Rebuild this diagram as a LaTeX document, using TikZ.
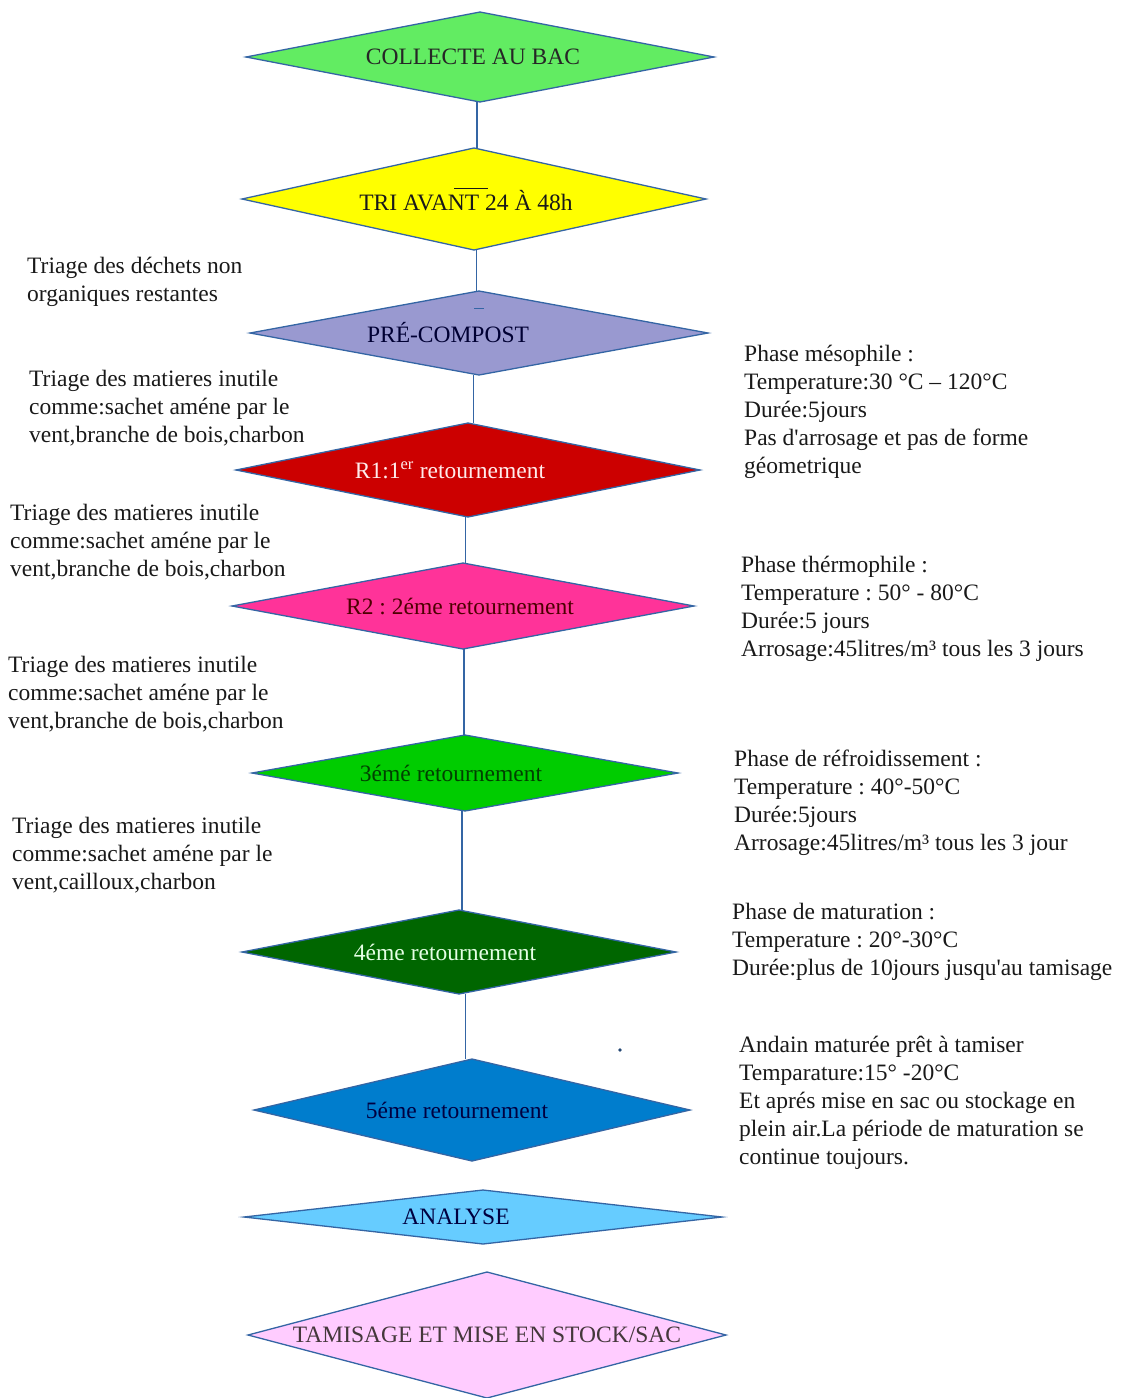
\documentclass[tikz,border=0pt]{standalone}
\usepackage{fontspec}
\setmainfont{Liberation Serif}
\usetikzlibrary{shapes.geometric,calc}
\frenchspacing

\definecolor{edgeblue}{RGB}{52,101,164}
\definecolor{collectgreen}{RGB}{98,236,98}
\definecolor{triyellow}{RGB}{255,255,0}
\definecolor{preblue}{RGB}{153,153,208}
\definecolor{rundred}{RGB}{204,0,0}
\definecolor{rtwopink}{RGB}{255,51,153}
\definecolor{rthreegreen}{RGB}{0,204,0}
\definecolor{rfourgreen}{RGB}{0,102,0}
\definecolor{rfiveblue}{RGB}{0,125,205}
\definecolor{analyseblue}{RGB}{102,204,255}
\definecolor{tamispink}{RGB}{255,204,255}

\def\txtsize{\fontsize{23.5}{28}\selectfont}

\begin{document}
\begin{tikzpicture}[x=1pt,y=-1pt]
    \tikzstyle{stage}=[diamond,draw=edgeblue,line width=1.3pt,inner sep=0pt,outer sep=0pt,font=\txtsize]
    \tikzstyle{link}=[draw=edgeblue,line width=1.3pt]
    \tikzstyle{note}=[anchor=north west,align=left,inner sep=0pt,font=\txtsize,text=black!90]

    \useasboundingbox (0,0) rectangle (1128,1398);

    % Draw the stages of the process
    \node[stage,aspect=5.2,fill=collectgreen,text=black!85,minimum width=468pt,minimum height=90pt] (S-1) at (480,57) {COLLECTE AU BAC\hspace*{14pt}};
    \node[stage,aspect=4.5,fill=triyellow,text=black!90,minimum width=464pt,minimum height=102pt] (S-2) at (474,199)
        {TRI AVAN\rlap{\kern-0.45em\rule[0.9em]{1.45em}{0.06em}}T 24 À 48h\hspace*{16pt}};
    \node[stage,aspect=5.4,fill=preblue,text=black!80!blue,minimum width=458pt,minimum height=84pt] (S-3) at (479,333) {PRÉ-COMPOST\hspace*{62pt}};
    \node[stage,aspect=4.9,fill=rundred,text=red!8,minimum width=464pt,minimum height=94pt] (S-4) at (468,470) {R1:1\textsuperscript{er} retournement\hspace*{36pt}};
    \node[stage,aspect=5.4,fill=rtwopink,text=black!70!red,minimum width=462pt,minimum height=86pt] (S-5) at (463,606) {R2 : 2éme retournement\hspace*{6pt}};
    \node[stage,aspect=5.6,fill=rthreegreen,text=black!75!green,minimum width=426pt,minimum height=76pt] (S-6) at (465,773) {3émé retournement\hspace*{28pt}};
    \node[stage,aspect=5.2,fill=rfourgreen,text=green!10,minimum width=434pt,minimum height=84pt] (S-7) at (459,952) {4éme retournement\hspace*{28pt}};
    \node[stage,aspect=4.3,fill=rfiveblue,text=black!75!blue,minimum width=436pt,minimum height=102pt] (S-8) at (472,1110) {5éme retournement\hspace*{30pt}};
    \node[stage,aspect=8.8,fill=analyseblue,text=black!75!blue,minimum width=478pt,minimum height=54pt] (S-9) at (483,1217) {ANALYSE\hspace*{54pt}};
    \node[stage,aspect=3.8,fill=tamispink,text=black!85!magenta,minimum width=478pt,minimum height=126pt] (S-10) at (487,1335) {TAMISAGE ET MISE EN STOCK/SAC};

    % Connect the stages one below the other
    \foreach \source/\dest in {1/2,2/3,3/4,4/5,5/6,6/7,7/8}{
        \coordinate (M-\source) at ($(S-\source.south)!0.5!(S-\dest.north)$);
        \draw[link] (M-\source |- S-\source.south) -- (M-\source |- S-\dest.north);
    }

    % small marks left on the page
    \draw[edgeblue,line width=1pt] ([xshift=-5pt,yshift=-17pt]S-3.north) -- ++(10,0);
    \fill[edgeblue!70!black] (620,1050) circle (1.8pt);

    % Annotate the sorting on the left
    \node[note] (L-1) at (27,254) {\strut Triage des déchets non\\organiques restantes};
    \node[note] (L-2) at (29,367) {\strut Triage des matieres inutile\\comme:sachet améne par le\\vent,branche de bois,charbon};
    \node[note] (L-3) at (10,501) {\strut Triage des matieres inutile\\comme:sachet améne par le\\vent,branche de bois,charbon};
    \node[note] (L-4) at (8,653) {\strut Triage des matieres inutile\\comme:sachet améne par le\\vent,branche de bois,charbon};
    \node[note] (L-5) at (12,814) {\strut Triage des matieres inutile\\comme:sachet améne par le\\vent,cailloux,charbon};

    % Annotate the phases on the right
    \node[note] (P-1) at (744,342) {\strut Phase mésophile :\\Temperature:30 °C – 120°C\\Durée:5jours\\Pas d\textquotesingle arrosage et pas de forme\\géometrique};
    \node[note] (P-2) at (741,553) {\strut Phase thérmophile :\\Temperature : 50° - 80°C\\Durée:5 jours\\Arrosage:45litres/m³ tous les 3 jours};
    \node[note] (P-3) at (734,747) {\strut Phase de réfroidissement :\\Temperature : 40°-50°C\\Durée:5jours\\Arrosage:45litres/m³ tous les 3 jour};
    \node[note] (P-4) at (732,900) {\strut Phase de maturation :\\Temperature : 20°-30°C\\Durée:plus de 10jours jusqu\textquotesingle au tamisage};
    \node[note] (P-5) at (739,1033) {\strut Andain maturée prêt à tamiser\\Temparature:15° -20°C\\Et aprés mise en sac ou stockage en\\plein air.La période de maturation se\\continue toujours.};
\end{tikzpicture}
\end{document}
